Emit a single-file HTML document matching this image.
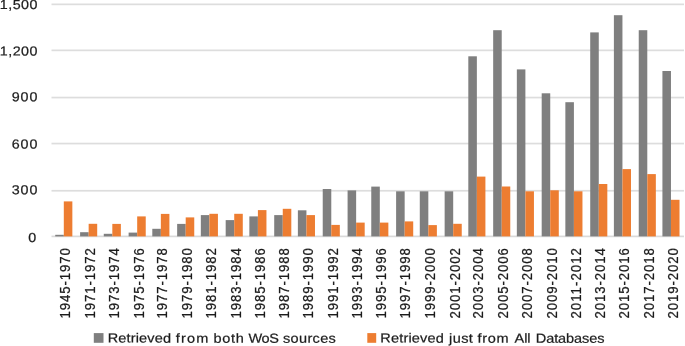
<!DOCTYPE html>
<html><head><meta charset="utf-8"><title>Chart</title>
<style>
html,body{margin:0;padding:0;background:#fff;}
svg{display:block;filter:blur(0.35px);}
text{font-family:"Liberation Sans", sans-serif;fill:#1c1c1c;stroke:#1c1c1c;stroke-width:0.22px;}
</style></head><body>
<svg width="685" height="346" viewBox="0 0 685 346">
<rect width="685" height="346" fill="#fff"/>

<rect x="51.5" y="3.50" width="632.5" height="1.7" fill="#dddddd"/>
<rect x="51.5" y="49.50" width="632.5" height="1.7" fill="#dddddd"/>
<rect x="51.5" y="96.70" width="632.5" height="1.7" fill="#dddddd"/>
<rect x="51.5" y="142.70" width="632.5" height="1.7" fill="#dddddd"/>
<rect x="51.5" y="189.90" width="632.5" height="1.7" fill="#dddddd"/>
<rect x="51.5" y="235.55" width="632.5" height="1.7" fill="#dadada"/>
<rect x="55.25" y="234.8" width="8.55" height="1.60" fill="#7f7f7f"/>
<rect x="63.80" y="201.4" width="8.55" height="35.00" fill="#ed7d31"/>
<rect x="80.10" y="232.2" width="8.55" height="4.20" fill="#7f7f7f"/>
<rect x="88.65" y="223.8" width="8.55" height="12.60" fill="#ed7d31"/>
<rect x="103.77" y="233.8" width="8.55" height="2.60" fill="#7f7f7f"/>
<rect x="112.32" y="223.9" width="8.55" height="12.50" fill="#ed7d31"/>
<rect x="128.63" y="232.6" width="8.55" height="3.80" fill="#7f7f7f"/>
<rect x="137.18" y="216.4" width="8.55" height="20.00" fill="#ed7d31"/>
<rect x="152.30" y="228.8" width="8.55" height="7.60" fill="#7f7f7f"/>
<rect x="160.85" y="213.9" width="8.55" height="22.50" fill="#ed7d31"/>
<rect x="177.15" y="223.9" width="8.55" height="12.50" fill="#7f7f7f"/>
<rect x="185.70" y="217.4" width="8.55" height="19.00" fill="#ed7d31"/>
<rect x="200.83" y="215.1" width="8.55" height="21.30" fill="#7f7f7f"/>
<rect x="209.38" y="213.8" width="8.55" height="22.60" fill="#ed7d31"/>
<rect x="225.68" y="220.1" width="8.55" height="16.30" fill="#7f7f7f"/>
<rect x="234.23" y="213.8" width="8.55" height="22.60" fill="#ed7d31"/>
<rect x="249.35" y="216.4" width="8.55" height="20.00" fill="#7f7f7f"/>
<rect x="257.90" y="210.1" width="8.55" height="26.30" fill="#ed7d31"/>
<rect x="274.21" y="215.1" width="8.55" height="21.30" fill="#7f7f7f"/>
<rect x="282.76" y="208.8" width="8.55" height="27.60" fill="#ed7d31"/>
<rect x="297.88" y="210.3" width="8.55" height="26.10" fill="#7f7f7f"/>
<rect x="306.43" y="215.1" width="8.55" height="21.30" fill="#ed7d31"/>
<rect x="322.73" y="189.0" width="8.55" height="47.40" fill="#7f7f7f"/>
<rect x="331.28" y="224.9" width="8.55" height="11.50" fill="#ed7d31"/>
<rect x="347.59" y="190.4" width="8.55" height="46.00" fill="#7f7f7f"/>
<rect x="356.14" y="222.6" width="8.55" height="13.80" fill="#ed7d31"/>
<rect x="371.26" y="186.6" width="8.55" height="49.80" fill="#7f7f7f"/>
<rect x="379.81" y="222.6" width="8.55" height="13.80" fill="#ed7d31"/>
<rect x="396.11" y="191.3" width="8.55" height="45.10" fill="#7f7f7f"/>
<rect x="404.66" y="221.4" width="8.55" height="15.00" fill="#ed7d31"/>
<rect x="419.78" y="191.3" width="8.55" height="45.10" fill="#7f7f7f"/>
<rect x="428.33" y="225.1" width="8.55" height="11.30" fill="#ed7d31"/>
<rect x="444.64" y="191.3" width="8.55" height="45.10" fill="#7f7f7f"/>
<rect x="453.19" y="223.8" width="8.55" height="12.60" fill="#ed7d31"/>
<rect x="468.31" y="56.3" width="8.55" height="180.10" fill="#7f7f7f"/>
<rect x="476.86" y="176.6" width="8.55" height="59.80" fill="#ed7d31"/>
<rect x="493.17" y="30.2" width="8.55" height="206.20" fill="#7f7f7f"/>
<rect x="501.72" y="186.5" width="8.55" height="49.90" fill="#ed7d31"/>
<rect x="516.84" y="69.4" width="8.55" height="167.00" fill="#7f7f7f"/>
<rect x="525.39" y="191.3" width="8.55" height="45.10" fill="#ed7d31"/>
<rect x="541.69" y="93.3" width="8.55" height="143.10" fill="#7f7f7f"/>
<rect x="550.24" y="190.3" width="8.55" height="46.10" fill="#ed7d31"/>
<rect x="565.36" y="102.2" width="8.55" height="134.20" fill="#7f7f7f"/>
<rect x="573.91" y="191.3" width="8.55" height="45.10" fill="#ed7d31"/>
<rect x="590.22" y="32.4" width="8.55" height="204.00" fill="#7f7f7f"/>
<rect x="598.77" y="184.0" width="8.55" height="52.40" fill="#ed7d31"/>
<rect x="613.89" y="15.2" width="8.55" height="221.20" fill="#7f7f7f"/>
<rect x="622.44" y="169.1" width="8.55" height="67.30" fill="#ed7d31"/>
<rect x="638.74" y="30.2" width="8.55" height="206.20" fill="#7f7f7f"/>
<rect x="647.29" y="174.1" width="8.55" height="62.30" fill="#ed7d31"/>
<rect x="662.42" y="71.0" width="8.55" height="165.40" fill="#7f7f7f"/>
<rect x="670.97" y="199.8" width="8.55" height="36.60" fill="#ed7d31"/>
<text transform="translate(-0.15,9.1) scale(1.1,1) skewY(0.03)" font-size="13.0" textLength="34.18" lengthAdjust="spacing">1,500</text>
<text transform="translate(-0.15,55.4) scale(1.1,1) skewY(0.03)" font-size="13.0" textLength="34.18" lengthAdjust="spacing">1,200</text>
<text transform="translate(11.65,101.2) scale(1.1,1) skewY(0.03)" font-size="13.0" textLength="23.45" lengthAdjust="spacing">900</text>
<text transform="translate(11.65,148.4) scale(1.1,1) skewY(0.03)" font-size="13.0" textLength="23.45" lengthAdjust="spacing">600</text>
<text transform="translate(11.65,194.2) scale(1.1,1) skewY(0.03)" font-size="13.0" textLength="23.45" lengthAdjust="spacing">300</text>
<text transform="translate(28.25,241.9) scale(1.1,1) skewY(0.03)" font-size="13.0" textLength="8.36" lengthAdjust="spacing">0</text>
<text transform="translate(70.40,318.6) rotate(-90) scale(1,1.12)" font-size="13.2" textLength="70.5" lengthAdjust="spacing">1945-1970</text>
<text transform="translate(95.25,318.6) rotate(-90) scale(1,1.12)" font-size="13.2" textLength="70.5" lengthAdjust="spacing">1971-1972</text>
<text transform="translate(118.93,318.6) rotate(-90) scale(1,1.12)" font-size="13.2" textLength="70.5" lengthAdjust="spacing">1973-1974</text>
<text transform="translate(143.78,318.6) rotate(-90) scale(1,1.12)" font-size="13.2" textLength="70.5" lengthAdjust="spacing">1975-1976</text>
<text transform="translate(167.45,318.6) rotate(-90) scale(1,1.12)" font-size="13.2" textLength="70.5" lengthAdjust="spacing">1977-1978</text>
<text transform="translate(192.31,318.6) rotate(-90) scale(1,1.12)" font-size="13.2" textLength="70.5" lengthAdjust="spacing">1979-1980</text>
<text transform="translate(215.98,318.6) rotate(-90) scale(1,1.12)" font-size="13.2" textLength="70.5" lengthAdjust="spacing">1981-1982</text>
<text transform="translate(240.83,318.6) rotate(-90) scale(1,1.12)" font-size="13.2" textLength="70.5" lengthAdjust="spacing">1983-1984</text>
<text transform="translate(264.50,318.6) rotate(-90) scale(1,1.12)" font-size="13.2" textLength="70.5" lengthAdjust="spacing">1985-1986</text>
<text transform="translate(289.36,318.6) rotate(-90) scale(1,1.12)" font-size="13.2" textLength="70.5" lengthAdjust="spacing">1987-1988</text>
<text transform="translate(313.03,318.6) rotate(-90) scale(1,1.12)" font-size="13.2" textLength="70.5" lengthAdjust="spacing">1989-1990</text>
<text transform="translate(337.88,318.6) rotate(-90) scale(1,1.12)" font-size="13.2" textLength="70.5" lengthAdjust="spacing">1991-1992</text>
<text transform="translate(361.56,318.6) rotate(-90) scale(1,1.12)" font-size="13.2" textLength="70.5" lengthAdjust="spacing">1993-1994</text>
<text transform="translate(386.41,318.6) rotate(-90) scale(1,1.12)" font-size="13.2" textLength="70.5" lengthAdjust="spacing">1995-1996</text>
<text transform="translate(410.08,318.6) rotate(-90) scale(1,1.12)" font-size="13.2" textLength="70.5" lengthAdjust="spacing">1997-1998</text>
<text transform="translate(434.94,318.6) rotate(-90) scale(1,1.12)" font-size="13.2" textLength="70.5" lengthAdjust="spacing">1999-2000</text>
<text transform="translate(459.79,318.6) rotate(-90) scale(1,1.12)" font-size="13.2" textLength="70.5" lengthAdjust="spacing">2001-2002</text>
<text transform="translate(483.46,318.6) rotate(-90) scale(1,1.12)" font-size="13.2" textLength="70.5" lengthAdjust="spacing">2003-2004</text>
<text transform="translate(508.32,318.6) rotate(-90) scale(1,1.12)" font-size="13.2" textLength="70.5" lengthAdjust="spacing">2005-2006</text>
<text transform="translate(531.99,318.6) rotate(-90) scale(1,1.12)" font-size="13.2" textLength="70.5" lengthAdjust="spacing">2007-2008</text>
<text transform="translate(556.84,318.6) rotate(-90) scale(1,1.12)" font-size="13.2" textLength="70.5" lengthAdjust="spacing">2009-2010</text>
<text transform="translate(580.51,318.6) rotate(-90) scale(1,1.12)" font-size="13.2" textLength="70.5" lengthAdjust="spacing">2011-2012</text>
<text transform="translate(605.37,318.6) rotate(-90) scale(1,1.12)" font-size="13.2" textLength="70.5" lengthAdjust="spacing">2013-2014</text>
<text transform="translate(629.04,318.6) rotate(-90) scale(1,1.12)" font-size="13.2" textLength="70.5" lengthAdjust="spacing">2015-2016</text>
<text transform="translate(653.90,318.6) rotate(-90) scale(1,1.12)" font-size="13.2" textLength="70.5" lengthAdjust="spacing">2017-2018</text>
<text transform="translate(677.57,318.6) rotate(-90) scale(1,1.12)" font-size="13.2" textLength="70.5" lengthAdjust="spacing">2019-2020</text>
<rect x="93.8" y="333.1" width="9.7" height="9.7" fill="#7f7f7f"/>
<rect x="367.3" y="333.1" width="8.9" height="9.7" fill="#ed7d31"/>
<text transform="translate(107.69,342.6) scale(1.1,1) skewY(0.03)" font-size="13.2"><tspan x="0.00" textLength="57.59" lengthAdjust="spacing">Retrieved</tspan> <tspan x="61.99" textLength="29.60" lengthAdjust="spacing">from</tspan> <tspan x="96.25" textLength="27.45" lengthAdjust="spacing">both</tspan> <tspan x="128.06" textLength="27.55" lengthAdjust="spacing">WoS</tspan> <tspan x="159.40" textLength="48.04" lengthAdjust="spacing">sources</tspan></text>
<text transform="translate(380.37,342.6) scale(1.1,1) skewY(0.03)" font-size="13.2"><tspan x="0.00" textLength="57.64" lengthAdjust="spacing">Retrieved</tspan> <tspan x="62.50" textLength="21.63" lengthAdjust="spacing">just</tspan> <tspan x="88.20" textLength="28.47" lengthAdjust="spacing">from</tspan> <tspan x="122.05" textLength="14.49" lengthAdjust="spacing">All</tspan> <tspan x="141.31" textLength="62.37" lengthAdjust="spacing">Databases</tspan></text>
</svg></body></html>
